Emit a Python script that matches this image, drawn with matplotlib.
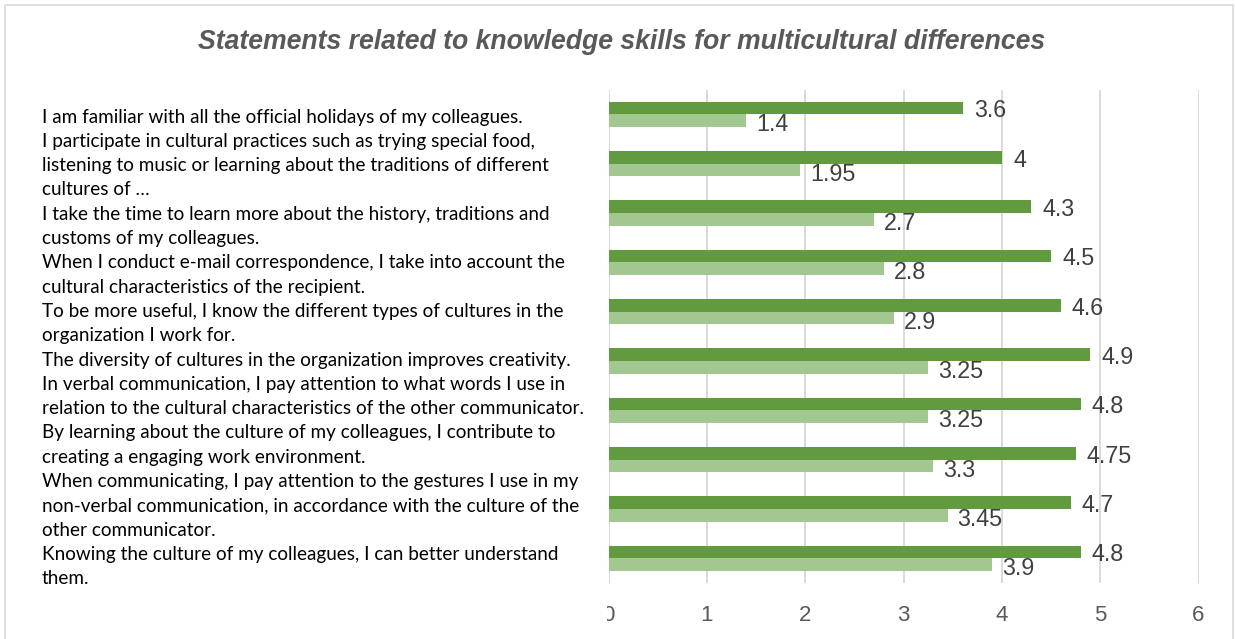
import matplotlib.pyplot as plt
from matplotlib.patches import Rectangle
from matplotlib.transforms import Bbox, TransformedBbox

# statements, wrapped the way they are printed in the label column
statements = [
    "I am familiar with all the official holidays of my colleagues.",
    "I participate in cultural practices such as trying special food,\n"
    "listening to music or learning about the traditions of different\n"
    "cultures of …",
    "I take the time to learn more about the history, traditions and\n"
    "customs of my colleagues.",
    "When I conduct e-mail correspondence, I take into account the\n"
    "cultural characteristics of the recipient.",
    "To be more useful, I know the different types of cultures in the\n"
    "organization I work for.",
    "The diversity of cultures in the organization improves creativity.",
    "In verbal communication, I pay attention to what words I use in\n"
    "relation to the cultural characteristics of the other communicator.",
    "By learning about the culture of my colleagues, I contribute to\n"
    "creating a engaging work environment.",
    "When communicating, I pay attention to the gestures I use in my\n"
    "non-verbal communication, in accordance with the culture of the\n"
    "other communicator.",
    "Knowing the culture of my colleagues, I can better understand\n"
    "them.",
]
values_1 = [3.6, 4, 4.3, 4.5, 4.6, 4.9, 4.8, 4.75, 4.7, 4.8]
values_2 = [1.4, 1.95, 2.7, 2.8, 2.9, 3.25, 3.25, 3.3, 3.45, 3.9]
x_ticks = [0, 1, 2, 3, 4, 5, 6]

title = "Statements related to knowledge skills for multicultural differences"

DARK = "#629b3f"
LIGHT = "#a3c790"
GRID = "#d9d9d9"

W, H = 1235, 639
fig = plt.figure(figsize=(W / 100, H / 100), dpi=100)

# outer chart border
fig.patches.append(Rectangle((5 / W, -0.01), 1228 / W, (H - 5) / H + 0.01,
                             transform=fig.transFigure, fill=False,
                             edgecolor=GRID, linewidth=1.2))

fig.text(622 / W, 1 - 42 / H, title, ha="center", va="center",
         fontsize=19.2, fontweight="bold", fontstyle="italic",
         color="#595959", family="Liberation Sans")

# label column on the left: one line after another
line_step = 24.3
y_line = 117
for s in statements:
    for line in s.split("\n"):
        fig.text(42 / W, 1 - y_line / H, line, ha="left", va="center",
                 fontsize=13.6, color="black", family="Lato")
        y_line += line_step

ax = fig.add_axes([608.7 / W, 1 - 583 / H, 589.8 / W, 493.3 / H])

n = len(values_1)
pos = list(range(n))
h = 0.254
ax.barh([p - h / 2 for p in pos], values_1, height=h, color=DARK, zorder=3)
ax.barh([p + h / 2 for p in pos], values_2, height=h, color=LIGHT, zorder=3)

for p, v in zip(pos, values_1):
    ax.annotate(f"{v:g}", (v, p - h / 2), xytext=(8, -2),
                textcoords="offset points", va="center", ha="left",
                fontsize=16.8, color="#404040", family="Liberation Sans")
for p, v in zip(pos, values_2):
    ax.annotate(f"{v:g}", (v, p + h / 2), xytext=(7, -3),
                textcoords="offset points", va="center", ha="left",
                fontsize=16.8, color="#404040", family="Liberation Sans")

ax.set_xlim(0, 6)
ax.set_ylim(n - 0.5, -0.5)
ax.set_xticks(x_ticks)
ax.set_yticks([])
ax.grid(axis="x", color=GRID, linewidth=1.4, zorder=0)
for sp in ax.spines.values():
    sp.set_visible(False)
ax.tick_params(axis="x", length=0, pad=15.5, labelsize=16, labelcolor="#595959")
for lbl in ax.get_xticklabels():
    lbl.set_family("Liberation Sans")

# the first tick label is cut at the left edge of the plot region
first = ax.xaxis.get_major_ticks()[0].label1
first.set_clip_box(TransformedBbox(Bbox([[606.5 / W, 0], [1, 1]]), fig.transFigure))
first.set_clip_on(True)
fig.patches.append(Rectangle((598 / W, 1 - 624 / H), 8.5 / W, 26 / H,
                             transform=fig.transFigure, facecolor="white",
                             edgecolor="none", zorder=5))

fig.savefig("out.png", dpi=100)
